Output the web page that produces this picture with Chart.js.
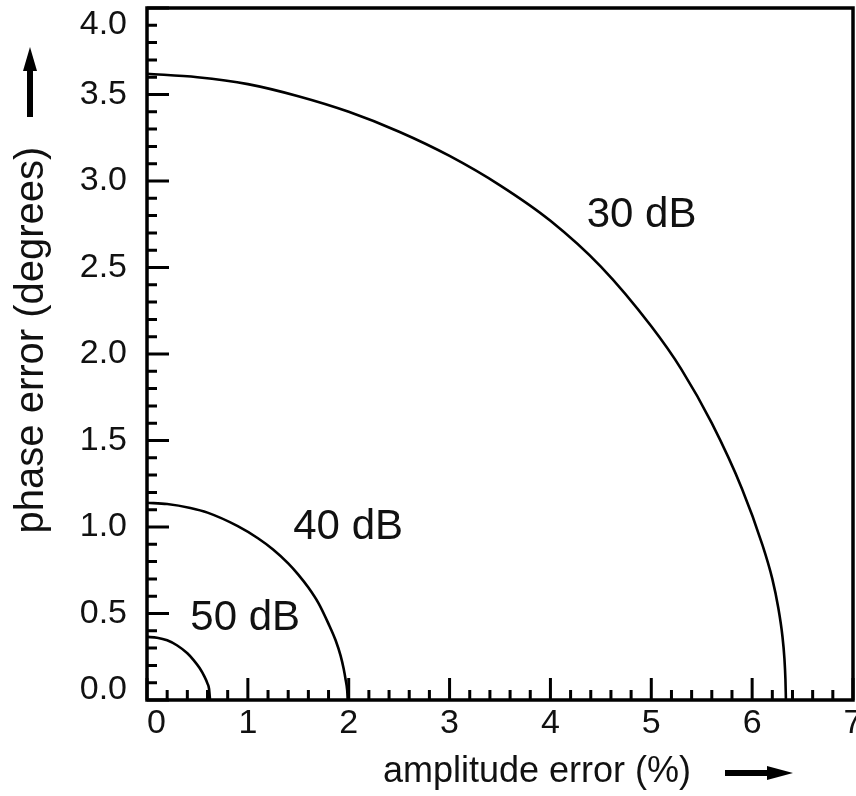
<!DOCTYPE html>
<html>
<head>
<meta charset="utf-8">
<script src="https://cdn.jsdelivr.net/npm/chart.js@4.4.1/dist/chart.umd.min.js"></script>
<style>
  html, body { margin: 0; padding: 0; background: #fff; }
  #wrap { position: relative; width: 856px; height: 796px; overflow: hidden; }
  #chart { position: absolute; left: 0; top: -30px; }
</style>
</head>
<body>
<div id="wrap"><canvas id="chart" width="872" height="826"></canvas></div>
<script>
// --- data ---
// 30 dB curve
const x30 = [0, 0.5, 1.0, 1.5, 2.0, 2.5, 3.0, 3.5, 4.0, 4.5, 5.0, 5.3, 5.6, 5.9, 6.1, 6.2, 6.26, 6.3, 6.32, 6.33, 6.335];
const y30 = [3.62, 3.60, 3.56, 3.49, 3.40, 3.285, 3.145, 2.975, 2.77, 2.505, 2.16, 1.91, 1.60, 1.22, 0.90, 0.70, 0.53, 0.37, 0.24, 0.12, 0];
// 40 dB curve
const x40 = [0, 0.2, 0.43, 0.6, 0.9, 1.1, 1.25, 1.4, 1.5, 1.6, 1.7, 1.8, 1.87, 1.92, 1.95, 1.97, 1.985, 1.99];
const y40 = [1.14, 1.133, 1.11, 1.083, 1.005, 0.935, 0.87, 0.79, 0.725, 0.65, 0.56, 0.44, 0.345, 0.255, 0.18, 0.115, 0.055, 0];
// 50 dB curve
const x50 = [0, 0.1, 0.2, 0.3, 0.4, 0.46, 0.52, 0.57, 0.6, 0.615, 0.625];
const y50 = [0.365, 0.36, 0.345, 0.315, 0.27, 0.232, 0.186, 0.135, 0.095, 0.065, 0];

// curve names and where they sit (data units)
const curveNames = ['30 dB', '40 dB', '50 dB'];
const nameX = [4.36, 1.45, 0.43];
const nameY = [2.80, 1.00, 0.47];

const xTitle = 'amplitude error (%)';
const yTitle = 'phase error (degrees)';

const SHIFT = 30; // canvas is pushed up by this much so the top label can sit below its tick

function toPoints(xs, ys) {
    return xs.map((x, i) => ({ x: x, y: ys[i] }));
}

const curveStyle = {
    showLine: true,
    borderColor: '#000',
    borderWidth: 2.6,
    pointRadius: 0,
    cubicInterpolationMode: 'monotone',
    fill: false
};

const font = 'Liberation Sans, Arial, sans-serif';

// frame, inward tick marks, curve names, titles and arrows
const framePlugin = {
    id: 'frame',
    afterDraw(chart) {
        const { ctx, chartArea: a, scales: { x, y } } = chart;
        ctx.save();
        ctx.strokeStyle = '#000';
        ctx.lineCap = 'butt';

        // minor / major tick marks pointing inside
        ctx.lineWidth = 3;
        ctx.beginPath();
        y.ticks.forEach(t => {
            const major = Math.round(t.value * 10) % 5 === 0;
            const py = y.getPixelForValue(t.value);
            ctx.moveTo(a.left, py);
            ctx.lineTo(a.left + (major ? 22 : 10), py);
        });
        x.ticks.forEach(t => {
            const major = Math.round(t.value * 5) % 5 === 0;
            const px = x.getPixelForValue(t.value);
            ctx.moveTo(px, a.bottom);
            ctx.lineTo(px, a.bottom - (major ? 22 : 10));
        });
        ctx.stroke();

        // box
        ctx.lineWidth = 3.5;
        ctx.strokeRect(a.left, a.top, a.right - a.left, a.bottom - a.top);

        // curve names
        ctx.fillStyle = '#111';
        ctx.font = '42px ' + font;
        ctx.textAlign = 'left';
        ctx.textBaseline = 'middle';
        curveNames.forEach((n, i) => {
            ctx.fillText(n, x.getPixelForValue(nameX[i]), y.getPixelForValue(nameY[i]));
        });

        // axis titles
        ctx.textAlign = 'center';
        ctx.font = '36px ' + font;
        ctx.fillText(xTitle, 537, 772 + SHIFT);
        ctx.save();
        ctx.translate(32, 340 + SHIFT);
        ctx.rotate(-Math.PI / 2);
        ctx.font = '40px ' + font;
        ctx.fillText(yTitle, 0, 0);
        ctx.restore();

        // arrows
        ctx.fillStyle = '#000';
        ctx.fillRect(27, 68 + SHIFT, 6, 49);
        ctx.beginPath();
        ctx.moveTo(30, 47 + SHIFT);
        ctx.lineTo(23, 71 + SHIFT);
        ctx.lineTo(37, 71 + SHIFT);
        ctx.closePath();
        ctx.fill();

        ctx.fillRect(725, 770 + SHIFT, 45, 6);
        ctx.beginPath();
        ctx.moveTo(793, 773 + SHIFT);
        ctx.lineTo(767, 766 + SHIFT);
        ctx.lineTo(767, 780 + SHIFT);
        ctx.closePath();
        ctx.fill();

        ctx.restore();
    }
};

const ctx = document.getElementById('chart').getContext('2d');
new Chart(ctx, {
    type: 'scatter',
    data: {
        datasets: [
            Object.assign({ label: curveNames[0], data: toPoints(x30, y30) }, curveStyle),
            Object.assign({ label: curveNames[1], data: toPoints(x40, y40) }, curveStyle),
            Object.assign({ label: curveNames[2], data: toPoints(x50, y50) }, curveStyle)
        ]
    },
    options: {
        responsive: false,
        animation: false,
        layout: { padding: { left: 0, top: 8 + SHIFT, right: 19, bottom: 0 } },
        plugins: { legend: { display: false }, tooltip: { enabled: false } },
        scales: {
            x: {
                type: 'linear',
                min: 0,
                max: 7,
                afterFit: s => { s.height = 96; },
                border: { display: false },
                grid: { drawOnChartArea: false, tickLength: 3, tickColor: 'rgba(0,0,0,0)' },
                ticks: {
                    stepSize: 0.2,
                    autoSkip: false,
                    maxRotation: 0,
                    padding: 0,
                    color: '#111',
                    font: { family: font, size: 34 },
                    callback: v => {
                        const k = Math.round(v * 5);
                        if (k % 5 !== 0) return '';
                        // the corner label sits a little to the right, as in the original
                        return k === 0 ? '\u00a0\u00a00' : String(k / 5);
                    }
                }
            },
            y: {
                type: 'linear',
                min: 0,
                max: 4,
                afterFit: s => { s.width = 147; },
                border: { display: false },
                grid: { drawOnChartArea: false, tickLength: 20, tickColor: 'rgba(0,0,0,0)' },
                ticks: {
                    stepSize: 0.1,
                    autoSkip: false,
                    padding: 0,
                    color: '#111',
                    font: c => {
                        const k = c && c.tick ? Math.round(c.tick.value * 10) : 1;
                        // end labels are nudged inward by a blank extra line
                        const lh = k === 40 ? 1.0 : (k === 0 ? 0.62 : 0.5);
                        return { family: font, size: 34, lineHeight: lh };
                    },
                    callback: v => {
                        const k = Math.round(v * 10);
                        if (k % 5 !== 0) return '';
                        const s = (k / 10).toFixed(1);
                        if (k === 40) return ['', s];
                        if (k === 0) return [s, ''];
                        return s;
                    }
                }
            }
        }
    },
    plugins: [framePlugin]
});
</script>
</body>
</html>
